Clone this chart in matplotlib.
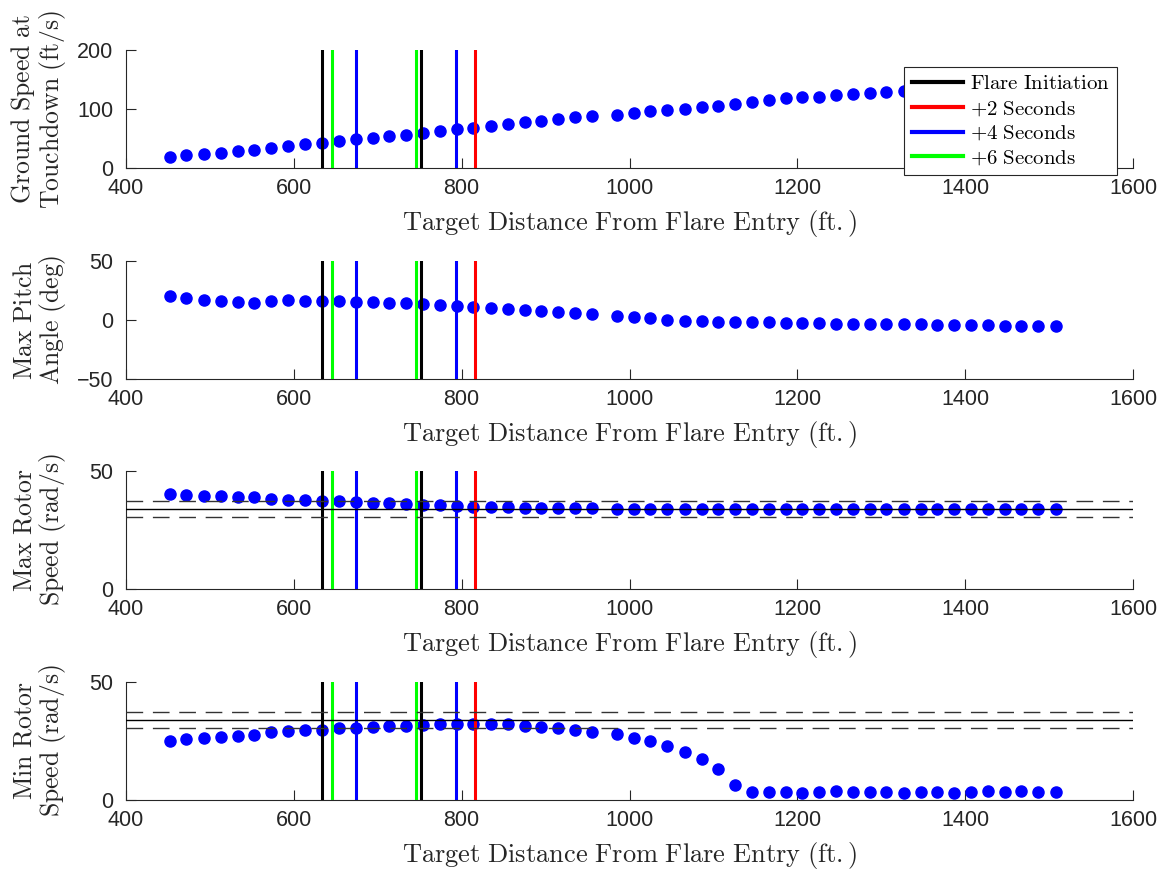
import numpy as np
import matplotlib
matplotlib.use("Agg")
import matplotlib.pyplot as plt

plt.rcParams['mathtext.fontset'] = 'cm'
plt.rcParams['font.family'] = ['Liberation Sans', 'DejaVu Sans']

# target distance of each run (ft)
target_dist = [452, 472, 493, 513, 533, 553, 573, 593, 613, 634, 654, 674, 694,
               714, 734, 754, 774, 794, 814, 835, 855, 875, 895, 915, 935, 955,
               985, 1005, 1025, 1045, 1066, 1086, 1106, 1126, 1146, 1166, 1186,
               1206, 1226, 1246, 1266, 1286, 1306, 1327, 1347, 1367, 1387, 1407,
               1427, 1447, 1467, 1487, 1508]

ground_speed = [18.7, 22.1, 23.8, 26.1, 28.3, 31.2, 34.6, 37.4, 40.2, 43.1, 46.5,
                48.7, 51.6, 53.8, 56.7, 60.1, 62.9, 65.7, 68.6, 71.4, 74.2, 77.6,
                80.5, 83.3, 85.6, 87.8,
                90.1, 92.9, 95.8, 98.6, 100.8, 103.7, 105.9, 109.3, 112.7, 115.0,
                117.8, 119.5, 120.7, 122.9, 124.6, 126.9, 129.2, 130.9, 132.5,
                134.0, 135.5, 137.0, 138.5, 140.0, 141.5, 143.0, 144.5]

max_pitch = [20.3, 18.6, 17.1, 16.0, 15.4, 14.6, 16.3, 16.6, 16.3, 16.0, 16.0,
             15.4, 15.2, 14.6, 14.3, 13.5, 12.9, 12.0, 11.2, 10.3, 9.5, 8.6, 7.5,
             6.7, 5.8, 5.0,
             3.8, 2.4, 1.3, 0.1, -0.7, -1.0, -1.3, -1.8, -1.8, -2.1, -2.4, -2.7,
             -2.7, -3.0, -3.3, -3.3, -3.5, -3.5, -3.8, -4.1, -4.1, -4.4, -4.4,
             -4.7, -4.7, -5.0, -5.0]

max_rotor = [40.1, 39.9, 39.6, 39.3, 39.1, 38.8, 38.2, 37.9, 37.6, 37.4, 37.1,
             36.9, 36.6, 36.4, 36.1, 35.8, 35.5, 35.2, 34.9, 34.8, 34.7, 34.5,
             34.4, 34.2, 34.2, 34.2,
             34.1, 34.1, 34.1, 34.0, 34.0, 34.0, 34.0, 34.0, 34.0, 34.0, 34.0,
             34.0, 34.0, 34.0, 34.0, 34.0, 34.0, 34.0, 34.0, 33.9, 33.9, 33.9,
             33.9, 33.9, 33.9, 33.9, 33.9]

min_rotor = [25.0, 25.7, 26.1, 26.7, 27.3, 27.7, 28.7, 29.1, 29.5, 29.8, 30.3,
             30.5, 31.0, 31.3, 31.5, 31.8, 32.1, 32.2, 32.4, 32.4, 32.1, 31.5,
             31.1, 30.4, 29.7, 29.0,
             27.8, 26.4, 24.9, 22.7, 20.3, 17.2, 13.1, 6.4, 3.3, 3.4, 3.4, 3.1,
             3.6, 3.7, 3.4, 3.3, 3.6, 3.1, 3.6, 3.4, 3.0, 3.4, 3.7, 3.3, 3.7,
             3.3, 3.3]

# event markers (ft)
flare_init = [634, 752]
plus2 = [816]
plus4 = [674, 793]
plus6 = [645, 745]

rotor_nominal = 33.93  # rad/s, +/-10% band

ylabels = [r'$\mathrm{Ground\ Speed\ at}$' + '\n' + r'$\mathrm{Touchdown\ (ft/s)}$',
           r'$\mathrm{Max\ Pitch}$' + '\n' + r'$\mathrm{Angle\ (deg)}$',
           r'$\mathrm{Max\ Rotor}$' + '\n' + r'$\mathrm{Speed\ (rad/s)}$',
           r'$\mathrm{Min\ Rotor}$' + '\n' + r'$\mathrm{Speed\ (rad/s)}$']
series = [ground_speed, max_pitch, max_rotor, min_rotor]
ylims = [(0, 200), (-50, 50), (0, 50), (0, 50)]
yticks = [[0, 100, 200], [-50, 0, 50], [0, 50], [0, 50]]

W, H = 1173, 872
fig = plt.figure(figsize=(W / 100, H / 100), dpi=100)
tops = [50, 261, 471, 682]
ax_h = 118
axc = '#262626'

for i in range(4):
    ax = fig.add_axes([126 / W, 1 - (tops[i] + ax_h) / H, 1007 / W, ax_h / H])
    ax.plot(target_dist, series[i], 'o', color='b', markersize=8, mec='b', zorder=2)

    lines = []
    for xs, c, lab in [(flare_init, 'k', 'Flare Initiation'),
                       (plus2, 'r', '+2 Seconds'),
                       (plus4, 'b', '+4 Seconds'),
                       (plus6, '#00ff00', '+6 Seconds')]:
        for j, xv in enumerate(xs):
            ln = ax.axvline(xv, color=c, lw=2.2, zorder=3)
            if j == 0:
                lines.append((ln, lab))

    if i >= 2:
        ax.axhline(rotor_nominal, color='k', lw=1.0, zorder=4)
        for f in (1.1, 0.9):
            ax.axhline(rotor_nominal * f, color='#333333', lw=1.0,
                       linestyle=(0, (12, 7)), zorder=4)

    ax.set_xlim(400, 1600)
    ax.set_ylim(*ylims[i])
    ax.set_xticks(range(400, 1601, 200))
    ax.set_yticks(yticks[i])
    ax.spines['top'].set_visible(False)
    ax.spines['right'].set_visible(False)
    for s in ('left', 'bottom'):
        ax.spines[s].set_color(axc)
        ax.spines[s].set_linewidth(0.8)
    ax.tick_params(direction='in', length=7, width=0.8, color=axc,
                   labelcolor=axc, labelsize=15.5)
    ax.tick_params(axis='x', pad=7.5)
    ax.tick_params(axis='y', pad=9)

    ax.set_xlabel(r'$\mathrm{Target\ Distance\ From\ Flare\ Entry\ (ft.)}$',
                  fontsize=19, color=axc)
    ax.xaxis.set_label_coords(0.5, -0.34)
    ax.set_ylabel(ylabels[i], fontsize=18.5, color=axc, linespacing=1.0)
    ax.yaxis.set_label_coords(-0.058, 0.5)

    if i == 0:
        leg = fig.legend([l for l, _ in lines],
                         [r'$\mathrm{' + lab.replace(' ', r'\ ') + '}$' for _, lab in lines],
                         loc='upper right', bbox_to_anchor=(1117 / W, 1 - 67 / H),
                         fontsize=15, frameon=True, fancybox=False, framealpha=1,
                         edgecolor=axc, handlelength=2.45, handletextpad=0.35,
                         labelspacing=0.28, borderpad=0.35, borderaxespad=0)
        leg.get_frame().set_linewidth(0.8)
        for h in leg.get_lines():
            h.set_linewidth(3)

fig.savefig('out.png', dpi=100)
